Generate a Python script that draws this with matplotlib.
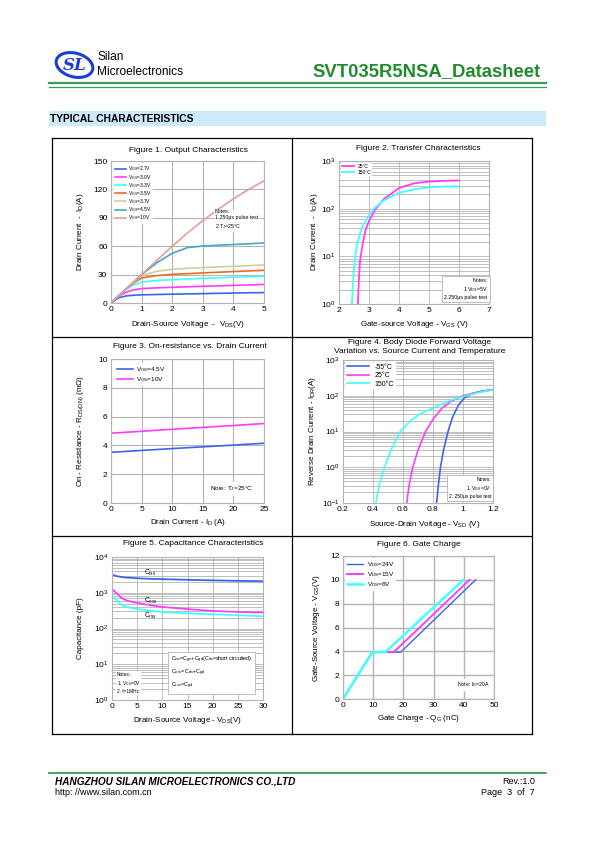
import matplotlib
matplotlib.use('Agg')
import matplotlib.pyplot as plt
from matplotlib.patches import Ellipse, Rectangle
from matplotlib.lines import Line2D

plt.rcParams['font.family'] = ['Liberation Sans', 'DejaVu Sans']
plt.rcParams['mathtext.default'] = 'regular'

W, H = 595, 842

# ---- data ----
# Figure 1: output characteristics (VDS, ID) per VGS
f1_vds = [0, 0.25, 0.5, 0.75, 1.0, 1.5, 2.0, 2.5, 3.0, 3.5, 4.0, 4.5, 5.0]
f1_labels = ['2.7V', '3.0V', '3.3V', '3.5V', '3.7V', '4.5V', '10V']
f1_id = [
    [0, 5.5, 7.5, 8.2, 8.6, 9.0, 9.3, 9.6, 9.9, 10.2, 10.5, 10.8, 11.0],
    [0, 7.0, 11.5, 14.0, 15.2, 16.0, 16.6, 17.1, 17.6, 18.1, 18.6, 19.1, 19.6],
    [0, 7.5, 14.5, 19.5, 22.0, 23.8, 24.6, 25.3, 26.0, 26.6, 27.2, 27.8, 28.4],
    [0, 7.5, 15.0, 21.5, 26.5, 29.0, 30.2, 31.0, 31.8, 32.5, 33.2, 33.9, 34.5],
    [0, 7.5, 15.0, 22.5, 29.0, 33.5, 35.5, 36.6, 37.4, 38.1, 38.8, 39.5, 40.2],
    [0, 7.5, 15.0, 22.5, 30.0, 42.5, 52.5, 58.5, 60.2, 61.0, 61.8, 62.6, 63.4],
    [0, 7.5, 15.0, 22.5, 30.0, 45.0, 60.0, 74.0, 87.0, 99.0, 110.0, 120.0, 129.0],
]
f1_colors = ['#3c64e6', '#ff3cff', '#40ffff', '#f06a1e', '#cdd09a', '#44a8c8', '#e0a09a']

# Figure 2: transfer characteristics
f2_x_25 = [2.63, 2.66, 2.7, 2.8, 2.9, 3.0, 3.2, 3.5, 4.0, 4.5, 5.0, 5.5, 6.0]
f2_y_25 = [1, 3, 8, 20, 38, 55, 95, 160, 270, 340, 370, 383, 390]
f2_x_150 = [2.43, 2.47, 2.52, 2.6, 2.7, 2.8, 3.0, 3.2, 3.5, 4.0, 4.5, 5.0, 5.5, 6.0]
f2_y_150 = [1, 3, 8, 18, 30, 45, 72, 105, 150, 215, 255, 280, 290, 295]

# Figure 3: on-resistance vs drain current
f3_id = [0, 5, 10, 15, 20, 25]
f3_r45 = [3.52, 3.65, 3.78, 3.90, 4.02, 4.15]
f3_r10 = [4.85, 4.98, 5.12, 5.25, 5.38, 5.52]

# Figure 4: body diode forward voltage
f4_x_m55 = [0.824, 0.835, 0.85, 0.87, 0.90, 0.93, 0.97, 1.01, 1.06, 1.12, 1.2]
f4_y_m55 = [0.1, 0.3, 1, 3, 10, 25, 55, 88, 115, 133, 148]
f4_x_25 = [0.625, 0.64, 0.665, 0.70, 0.75, 0.80, 0.86, 0.92, 1.0, 1.1, 1.2]
f4_y_25 = [0.1, 0.3, 1, 3, 10, 22, 45, 70, 100, 125, 148]
f4_x_150 = [0.419, 0.44, 0.477, 0.52, 0.58, 0.65, 0.72, 0.80, 0.9, 1.0, 1.1, 1.2]
f4_y_150 = [0.1, 0.3, 1, 3, 10, 20, 32, 45, 70, 95, 122, 148]

# Figure 5: capacitance
f5_vds = [0, 0.5, 1, 1.5, 2, 3, 5, 7.5, 10, 15, 20, 25, 30]
f5_ciss = [3200, 3050, 2900, 2820, 2750, 2650, 2550, 2450, 2400, 2300, 2220, 2150, 2100]
f5_coss = [1250, 1100, 950, 800, 700, 600, 520, 450, 400, 350, 310, 290, 280]
f5_crss = [800, 700, 600, 500, 450, 400, 350, 315, 290, 265, 250, 235, 220]

# Figure 6: gate charge
f6_q_24 = [0, 9.7, 19.1, 43.9]
f6_q_15 = [0, 9.7, 16.8, 41.9]
f6_q_6 = [0, 9.7, 14.0, 39.9]
f6_v = [0, 3.93, 3.93, 10]

GRID = '#b4b4b4'
FS_TICK = 6.0
FS_LAB = 5.8
FS_TITLE = 6.0


def fx(x):
    return x / W


def fy(y):
    return 1 - y / H


def make_ax(fig, x0, y0, x1, y1):
    ax = fig.add_axes([fx(x0), fy(y1), (x1 - x0) / W, (y1 - y0) / H])
    for s in ax.spines.values():
        s.set_color(GRID)
        s.set_linewidth(0.8)
    ax.tick_params(length=0, labelsize=FS_TICK, pad=2.5)
    ax.tick_params(which='minor', length=0)
    ax.set_axisbelow(True)
    return ax


def hline(fig, x0, x1, y, color, lw):
    fig.add_artist(Line2D([fx(x0), fx(x1)], [fy(y), fy(y)], color=color, lw=lw,
                          transform=fig.transFigure))


def vline(fig, x, y0, y1, color, lw):
    fig.add_artist(Line2D([fx(x), fx(x)], [fy(y0), fy(y1)], color=color, lw=lw,
                          transform=fig.transFigure))


def white_legend(ax, **kw):
    leg = ax.legend(loc='upper left', frameon=True, **kw)
    leg.get_frame().set_edgecolor('none')
    leg.get_frame().set_facecolor('white')
    leg.get_frame().set_alpha(1)
    return leg


def note_box(ax, x, y, text, fs=3.8, ha='left', va='bottom'):
    ax.text(x, y, text, transform=ax.transAxes, fontsize=fs, ha=ha, va=va,
            linespacing=1.3,
            bbox=dict(boxstyle='square,pad=0.4', fc='white', ec=GRID, lw=0.6))


fig = plt.figure(figsize=(W / 100, H / 100), dpi=100)

# ---- header ----
fig.add_artist(Ellipse((fx(74.5), fy(65)), 37 / W, 24 / H, angle=-8,
                       transform=fig.transFigure, fill=False, ec='#1a3fd6', lw=2.2))
fig.text(fx(74.5), fy(65), 'SL', fontsize=12, fontstyle='italic', fontweight='bold',
         color='#1a3fd6', ha='center', va='center', family='DejaVu Serif')
fig.text(fx(97), fy(57), 'Silan', fontsize=8.6, ha='left', va='center')
fig.text(fx(97), fy(72), 'Microelectronics', fontsize=8.6, ha='left', va='center')
fig.text(fx(541), fy(72), 'SVT035R5NSA_Datasheet', fontsize=13.3, fontweight='bold',
         color='#1e8c2c', ha='right', va='center')
hline(fig, 49, 546, 83.3, '#3c9a5c', 1.6)
hline(fig, 49, 546, 86.5, '#3c9a5c', 0.9)

fig.add_artist(Rectangle((fx(49), fy(126)), 497 / W, 15 / H, transform=fig.transFigure,
                         fc='#cde9fa', ec='none'))
fig.text(fx(50.5), fy(118.5), 'TYPICAL CHARACTERISTICS', fontsize=7.4, fontweight='bold',
         ha='left', va='center')

# outer table
for yy in [138, 337, 536, 734]:
    hline(fig, 51.5, 532, yy, 'black', 0.9)
for xx in [51.5, 292, 532]:
    vline(fig, xx, 138, 734, 'black', 0.9)

# ---- Figure 1 ----
ax = make_ax(fig, 111, 161, 264, 303)
for lab, ys, c in zip(f1_labels, f1_id, f1_colors):
    ax.plot(f1_vds, ys, color=c, lw=1.2, label='V$_{GS}$=' + lab)
ax.set_xlim(0, 5)
ax.set_ylim(0, 150)
ax.set_xticks([0, 1, 2, 3, 4, 5])
ax.set_yticks([0, 30, 60, 90, 120, 150])
ax.grid(True, color=GRID, lw=0.8)
white_legend(ax, fontsize=3.6, handlelength=2.3, labelspacing=-0.15, borderpad=0.3,
             handletextpad=0.3, borderaxespad=0.4)
ax.text(0.68, 0.66, 'Notes:\n1.250μs pulse test\n2.T$_J$=25°C', transform=ax.transAxes,
        fontsize=3.8, va='top', ha='left', linespacing=1.3,
        bbox=dict(boxstyle='square,pad=0.2', fc='white', ec='none'))
fig.text(fx(188), fy(150), 'Figure 1. Output Characteristics', fontsize=FS_TITLE,
         ha='center', va='center')
fig.text(fx(187.5), fy(324), 'Drain-Source Voltage  -  V$_{DS}$(V)', fontsize=FS_LAB,
         ha='center', va='center')
fig.text(fx(80), fy(232), 'Drain Current  -  I$_D$(A)', fontsize=FS_LAB, rotation=90,
         ha='center', va='center')

# ---- Figure 2 ----
ax = make_ax(fig, 339, 161, 489, 304)
ax.plot(f2_x_25, f2_y_25, color='#ff3cff', lw=1.3, label='25°C')
ax.plot(f2_x_150, f2_y_150, color='#40ffff', lw=1.3, label='150°C')
ax.set_yscale('log')
ax.set_xlim(2, 7)
ax.set_ylim(1, 1000)
ax.set_xticks([2, 3, 4, 5, 6, 7])
ax.grid(True, which='both', axis='y', color=GRID, lw=0.6)
ax.grid(True, which='major', axis='x', color=GRID, lw=0.6)
white_legend(ax, fontsize=3.6, handlelength=2.4, labelspacing=0.2, borderpad=0.2,
             handletextpad=0.8, borderaxespad=0.3)
note_box(ax, 0.99, 0.03, 'Notes:\n1.V$_{DS}$=5V\n2.250μs pulse test', fs=3.8,
         ha='right')
fig.text(fx(418), fy(149), 'Figure 2. Transfer Characteristics', fontsize=FS_TITLE,
         ha='center', va='center')
fig.text(fx(414), fy(324), 'Gate-source Voltage - V$_{GS}$ (V)', fontsize=FS_LAB,
         ha='center', va='center')
fig.text(fx(315), fy(232), 'Drain Current  -  I$_D$(A)', fontsize=FS_LAB, rotation=90,
         ha='center', va='center')

# ---- Figure 3 ----
ax = make_ax(fig, 111, 359, 264, 503)
ax.plot(f3_id, f3_r45, color='#3c64e6', lw=1.2, label='V$_{GS}$=4.5V')
ax.plot(f3_id, f3_r10, color='#ff3cff', lw=1.2, label='V$_{GS}$=10V')
ax.set_xlim(0, 25)
ax.set_ylim(0, 10)
ax.set_xticks([0, 5, 10, 15, 20, 25])
ax.set_yticks([0, 2, 4, 6, 8, 10])
ax.grid(True, color=GRID, lw=0.8)
white_legend(ax, fontsize=4.6, handlelength=2.6, labelspacing=0.2, borderpad=0.3,
             handletextpad=0.4, borderaxespad=0.6)
ax.text(0.93, 0.1, 'Note: T$_J$=25°C', transform=ax.transAxes, fontsize=4.6,
        ha='right', va='center',
        bbox=dict(boxstyle='square,pad=0.4', fc='white', ec='none'))
fig.text(fx(190), fy(346), 'Figure 3. On-resistance vs. Drain Current', fontsize=FS_TITLE,
         ha='center', va='center')
fig.text(fx(188), fy(523), 'Drain Current - I$_D$ (A)', fontsize=FS_LAB,
         ha='center', va='center')
fig.text(fx(81), fy(431), 'On - Resistance - R$_{DS(ON)}$ (mΩ)', fontsize=FS_LAB,
         rotation=90, ha='center', va='center')

# ---- Figure 4 ----
ax = make_ax(fig, 343, 360, 493, 503)
ax.plot(f4_x_m55, f4_y_m55, color='#3c64e6', lw=1.2, label='-55°C')
ax.plot(f4_x_25, f4_y_25, color='#ff3cff', lw=1.2, label='25°C')
ax.plot(f4_x_150, f4_y_150, color='#40ffff', lw=1.2, label='150°C')
ax.set_yscale('log')
ax.set_xlim(0.2, 1.2)
ax.set_ylim(0.1, 1000)
ax.set_xticks([0.2, 0.4, 0.6, 0.8, 1.0, 1.2])
ax.set_xticklabels(['0.2', '0.4', '0.6', '0.8', '1', '1.2'])
ax.grid(True, which='both', axis='y', color=GRID, lw=0.6)
ax.grid(True, which='major', axis='x', color=GRID, lw=0.6)
white_legend(ax, fontsize=5.0, handlelength=3.2, labelspacing=0.2, borderpad=0.25,
             handletextpad=0.8, borderaxespad=0.3)
note_box(ax, 0.99, 0.03, 'Notes:\n1. V$_{GS}$=0V\n2. 250μs pulse test', fs=3.6,
         ha='right')
fig.text(fx(420), fy(342), 'Figure 4. Body Diode Forward Voltage', fontsize=FS_TITLE,
         ha='center', va='center')
fig.text(fx(420), fy(351.5), 'Variation vs. Source Current and Temperature',
         fontsize=FS_TITLE, ha='center', va='center')
fig.text(fx(425), fy(525), 'Source-Drain Voltage - V$_{SD}$ (V)', fontsize=FS_LAB,
         ha='center', va='center')
fig.text(fx(313), fy(431), 'Reverse Drain Current - I$_{DR}$(A)', fontsize=FS_LAB,
         rotation=90, ha='center', va='center')

# ---- Figure 5 ----
ax = make_ax(fig, 112, 557, 263, 700)
ax.plot(f5_vds, f5_ciss, color='#3c64e6', lw=1.3)
ax.plot(f5_vds, f5_coss, color='#ff3cff', lw=1.3)
ax.plot(f5_vds, f5_crss, color='#40ffff', lw=1.3)
ax.set_yscale('log')
ax.set_xlim(0, 30)
ax.set_ylim(1, 10000)
ax.set_xticks([0, 5, 10, 15, 20, 25, 30])
ax.grid(True, which='both', axis='y', color=GRID, lw=0.6)
ax.grid(True, which='major', axis='x', color=GRID, lw=0.6)
ax.text(6.4, 3600, 'C$_{iss}$', fontsize=4.8, ha='left', va='center')
ax.text(6.4, 600, 'C$_{oss}$', fontsize=4.8, ha='left', va='center')
ax.text(6.4, 230, 'C$_{rss}$', fontsize=4.8, ha='left', va='center')
ax.text(0.39, 0.06, 'C$_{iss}$=C$_{gs}$+C$_{gd}$(C$_{ds}$=short circuited)\n'
        'C$_{oss}$=C$_{ds}$+C$_{gd}$\nC$_{rss}$=C$_{gd}$', transform=ax.transAxes,
        fontsize=3.9, ha='left', va='bottom', linespacing=1.5,
        bbox=dict(boxstyle='square,pad=0.5', fc='white', ec=GRID, lw=0.6))
ax.text(0.03, 0.04, 'Notes:\n1. V$_{GS}$=0V\n2. f=1MHz', transform=ax.transAxes,
        fontsize=3.4, ha='left', va='bottom', linespacing=1.3,
        bbox=dict(boxstyle='square,pad=0.2', fc='white', ec='none'))
fig.text(fx(193), fy(543.5), 'Figure 5. Capacitance Characteristics', fontsize=FS_TITLE,
         ha='center', va='center')
fig.text(fx(187.5), fy(720), 'Drain-Source Voltage - V$_{DS}$(V)', fontsize=FS_LAB,
         ha='center', va='center')
fig.text(fx(81), fy(628), 'Capacitance (pF)', fontsize=FS_LAB, rotation=90,
         ha='center', va='center')

# ---- Figure 6 ----
ax = make_ax(fig, 343, 556, 494, 699)
ax.plot(f6_q_24, f6_v, color='#3c64e6', lw=1.0, label='V$_{DS}$=24V')
ax.plot(f6_q_15, f6_v, color='#ff3cff', lw=1.4, label='V$_{DS}$=15V')
ax.plot(f6_q_6, f6_v, color='#40ffff', lw=1.8, label='V$_{DS}$=6V')
ax.set_xlim(0, 50)
ax.set_ylim(0, 12)
ax.set_xticks([0, 10, 20, 30, 40, 50])
ax.set_yticks([0, 2, 4, 6, 8, 10, 12])
ax.grid(True, color=GRID, lw=1.0)
white_legend(ax, fontsize=4.6, handlelength=2.6, labelspacing=0.2, borderpad=0.3,
             handletextpad=0.5, borderaxespad=0.3)
ax.text(0.97, 0.1, 'Note: I$_D$=20A', transform=ax.transAxes, fontsize=3.8,
        ha='right', va='center',
        bbox=dict(boxstyle='square,pad=0.3', fc='white', ec='none'))
fig.text(fx(419), fy(544.5), 'Figure 6. Gate Charge', fontsize=FS_TITLE,
         ha='center', va='center')
fig.text(fx(419), fy(718.5), 'Gate Charge - Q$_G$ (nC)', fontsize=FS_LAB,
         ha='center', va='center')
fig.text(fx(317), fy(628), 'Gate-Source Voltage - V$_{GS}$(V)', fontsize=FS_LAB,
         rotation=90, ha='center', va='center')

# ---- footer ----
hline(fig, 49, 546, 772.5, '#3c9a5c', 1.3)
fig.text(fx(55), fy(781.5), 'HANGZHOU SILAN MICROELECTRONICS CO.,LTD', fontsize=7.2,
         fontweight='bold', fontstyle='italic', ha='left', va='center')
fig.text(fx(55), fy(792.5), 'http: //www.silan.com.cn', fontsize=6.5,
         ha='left', va='center')
fig.text(fx(535), fy(781.5), 'Rev.:1.0', fontsize=6.5, ha='right', va='center')
fig.text(fx(535), fy(792.5), 'Page  3  of  7', fontsize=6.5, ha='right', va='center')

fig.savefig('out.png', dpi=100)
